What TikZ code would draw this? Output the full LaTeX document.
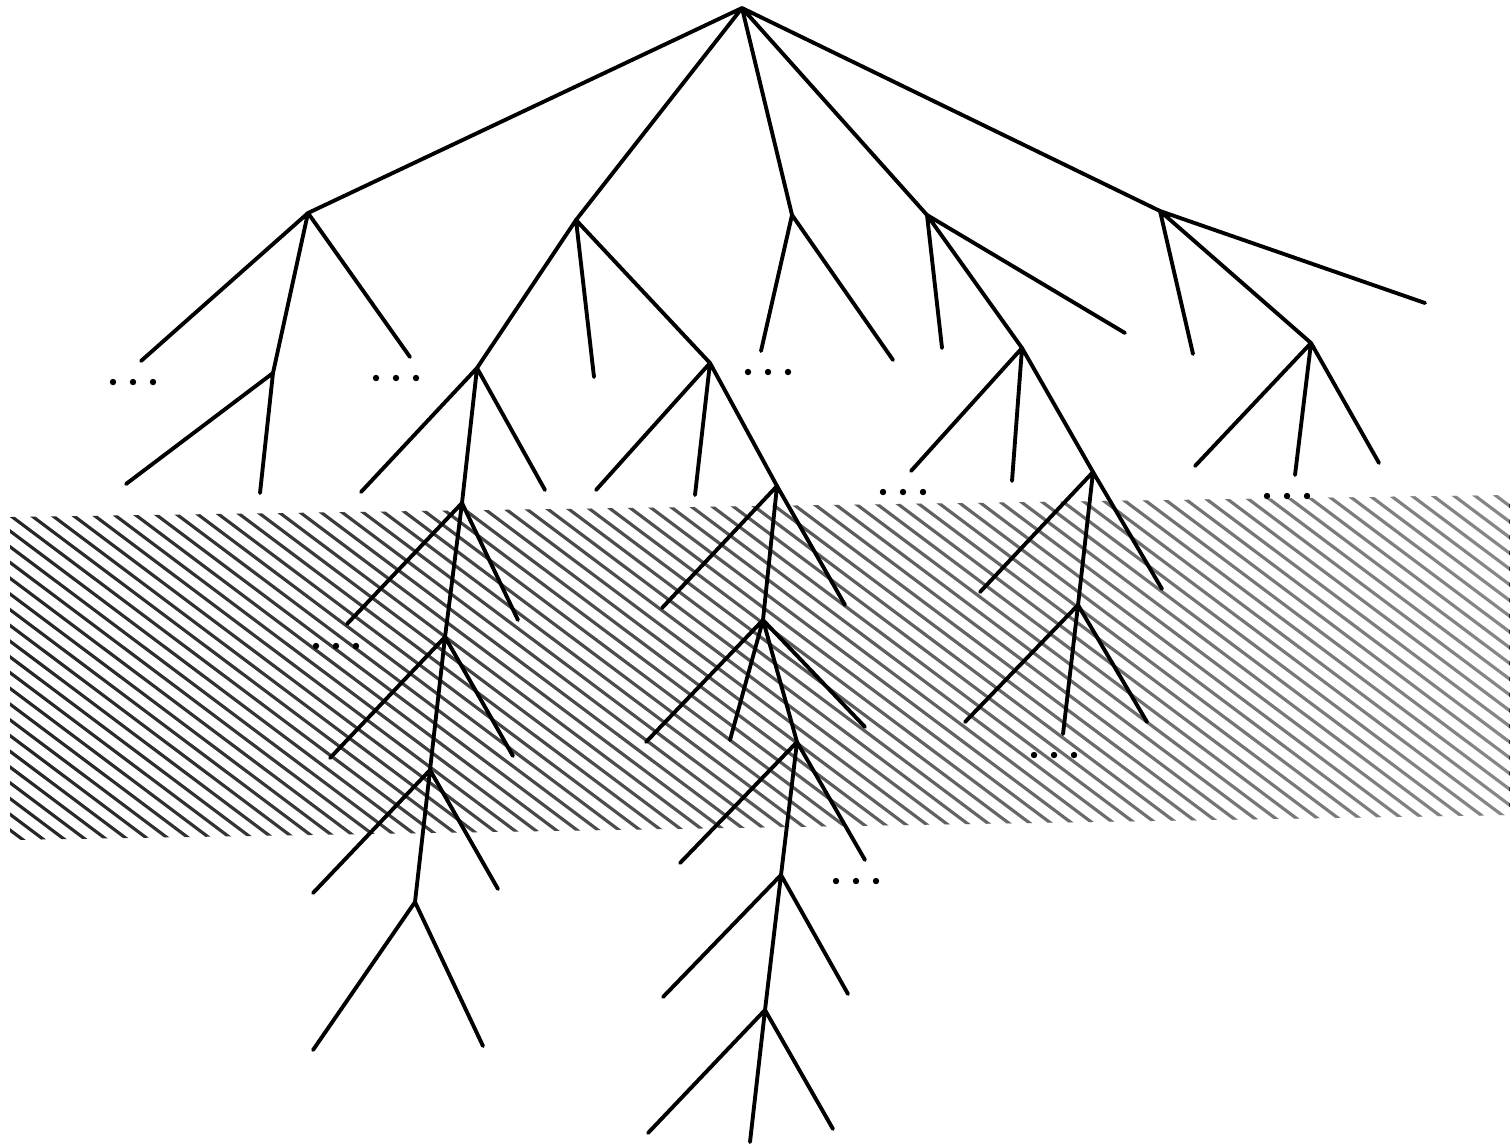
\documentclass[tikz,border=0pt]{standalone}
\usetikzlibrary{fadings}
\tikzfading[name=bandfade,left color=transparent!100,right color=transparent!55]
\tikzset{
  branch/.style={line width=1.1pt,line cap=round},
  hatchline/.style={line width=0.9pt,black!85},
  elldot/.style={fill=black},
}
% three dots centred at (#1,#2)
\newcommand\dotrow[2]{%
  \fill[elldot] (#1-20,#2) circle[radius=0.032cm] (#1,#2) circle[radius=0.032cm]
    (#1+20,#2) circle[radius=0.032cm];}

\begin{document}
\begin{tikzpicture}[x=0.01cm,y=-0.01cm]
  \useasboundingbox (0,0) rectangle (1510,1144);

  % hatched band
  \begin{scope}
    \clip (10,517) -- (1510,495) -- (1510,815) -- (10,840) -- cycle;
    \foreach \s in {-520,-499,...,1530}
      \draw[hatchline] (\s,480) -- (\s+507,860);
    \fill[white,path fading=bandfade] (10,480) rectangle (1510,860);
  \end{scope}

  % top level
  \coordinate (root) at (742,8);
  \coordinate (a) at (308,213);
  \coordinate (b) at (576,220);
  \coordinate (c) at (792,215);
  \coordinate (d) at (927,215);
  \coordinate (e) at (1160,211);
  \draw[branch] (root) -- (a) (root) -- (b) (root) -- (c) (root) -- (d) (root) -- (e);

  % left subtree
  \coordinate (a1) at (273,373);
  \coordinate (al) at (141,361);
  \coordinate (ar) at (410,357);
  \coordinate (a1l) at (126,484);
  \coordinate (a1r) at (260,493);
  \draw[branch] (a) -- (al) (a) -- (ar) (a) -- (a1);
  \draw[branch] (a1) -- (a1l) (a1) -- (a1r);
  \dotrow{133}{382}
  \dotrow{396}{378}

  % long chain under b
  \coordinate (b1) at (477,368);
  \coordinate (bm) at (594,377);
  \coordinate (b2) at (710,363);
  \draw[branch] (b) -- (b1) (b) -- (bm) (b) -- (b2);
  \coordinate (b1l) at (361,492);
  \coordinate (b1r) at (545,490);
  \coordinate (b11) at (462,503);
  \draw[branch] (b1) -- (b1l) (b1) -- (b1r) (b1) -- (b11);
  \coordinate (b11l) at (347,624);
  \coordinate (b11r) at (518,620);
  \coordinate (b12) at (445,637);
  \draw[branch] (b11) -- (b11l) (b11) -- (b11r) (b11) -- (b12);
  \coordinate (b12l) at (330,758);
  \coordinate (b12r) at (513,756);
  \coordinate (b13) at (430,770);
  \draw[branch] (b12) -- (b12l) (b12) -- (b12r) (b12) -- (b13);
  \coordinate (b13l) at (313,893);
  \coordinate (b13r) at (498,889);
  \coordinate (b14) at (415,902);
  \draw[branch] (b13) -- (b13l) (b13) -- (b13r) (b13) -- (b14);
  \coordinate (b14l) at (313,1050);
  \coordinate (b14r) at (483,1046);
  \draw[branch] (b14) -- (b14l) (b14) -- (b14r);
  \dotrow{336}{646}

  \coordinate (b2l) at (596,490);
  \coordinate (b2m) at (695,495);
  \coordinate (f) at (777,486);
  \draw[branch] (b2) -- (b2l) (b2) -- (b2m) (b2) -- (f);
  \dotrow{768}{372}
  \coordinate (fl) at (662,608);
  \coordinate (fr) at (845,605);
  \coordinate (f1) at (763,620);
  \draw[branch] (f) -- (fl) (f) -- (fr) (f) -- (f1);
  \coordinate (f1l) at (646,742);
  \coordinate (f1m) at (730,740);
  \coordinate (f1r) at (865,727);
  \coordinate (f2) at (797,742);
  \draw[branch] (f1) -- (f1l) (f1) -- (f1m) (f1) -- (f1r) (f1) -- (f2);
  \coordinate (f2l) at (680,863);
  \coordinate (f2r) at (865,860);
  \coordinate (f3) at (781,875);
  \draw[branch] (f2) -- (f2l) (f2) -- (f2r) (f2) -- (f3);
  \dotrow{856}{881}
  \coordinate (f3l) at (663,997);
  \coordinate (f3r) at (848,994);
  \coordinate (f4) at (765,1010);
  \draw[branch] (f3) -- (f3l) (f3) -- (f3r) (f3) -- (f4);
  \coordinate (f4l) at (648,1133);
  \coordinate (f4m) at (750,1142);
  \coordinate (f4r) at (833,1129);
  \draw[branch] (f4) -- (f4l) (f4) -- (f4m) (f4) -- (f4r);

  % c
  \coordinate (cl) at (761,351);
  \coordinate (cr) at (893,360);
  \draw[branch] (c) -- (cl) (c) -- (cr);

  % d
  \coordinate (dl) at (942,348);
  \coordinate (dr) at (1125,333);
  \coordinate (d1) at (1022,348);
  \draw[branch] (d) -- (dl) (d) -- (dr) (d) -- (d1);
  \coordinate (d1l) at (911,471);
  \coordinate (d1m) at (1012,481);
  \coordinate (d2) at (1093,472);
  \draw[branch] (d1) -- (d1l) (d1) -- (d1m) (d1) -- (d2);
  \dotrow{903}{492}
  \coordinate (d2l) at (980,592);
  \coordinate (d2r) at (1162,589);
  \coordinate (d3) at (1078,605);
  \draw[branch] (d2) -- (d2l) (d2) -- (d2r) (d2) -- (d3);
  \coordinate (d3l) at (965,722);
  \coordinate (d3m) at (1063,734);
  \coordinate (d3r) at (1147,722);
  \draw[branch] (d3) -- (d3l) (d3) -- (d3m) (d3) -- (d3r);
  \dotrow{1054}{755}

  % e
  \coordinate (el) at (1193,354);
  \coordinate (er) at (1425,303);
  \coordinate (e1) at (1311,343);
  \draw[branch] (e) -- (el) (e) -- (er) (e) -- (e1);
  \coordinate (e1l) at (1195,466);
  \coordinate (e1m) at (1295,475);
  \coordinate (e1r) at (1379,463);
  \draw[branch] (e1) -- (e1l) (e1) -- (e1m) (e1) -- (e1r);
  \dotrow{1287}{496}
\end{tikzpicture}
\end{document}
